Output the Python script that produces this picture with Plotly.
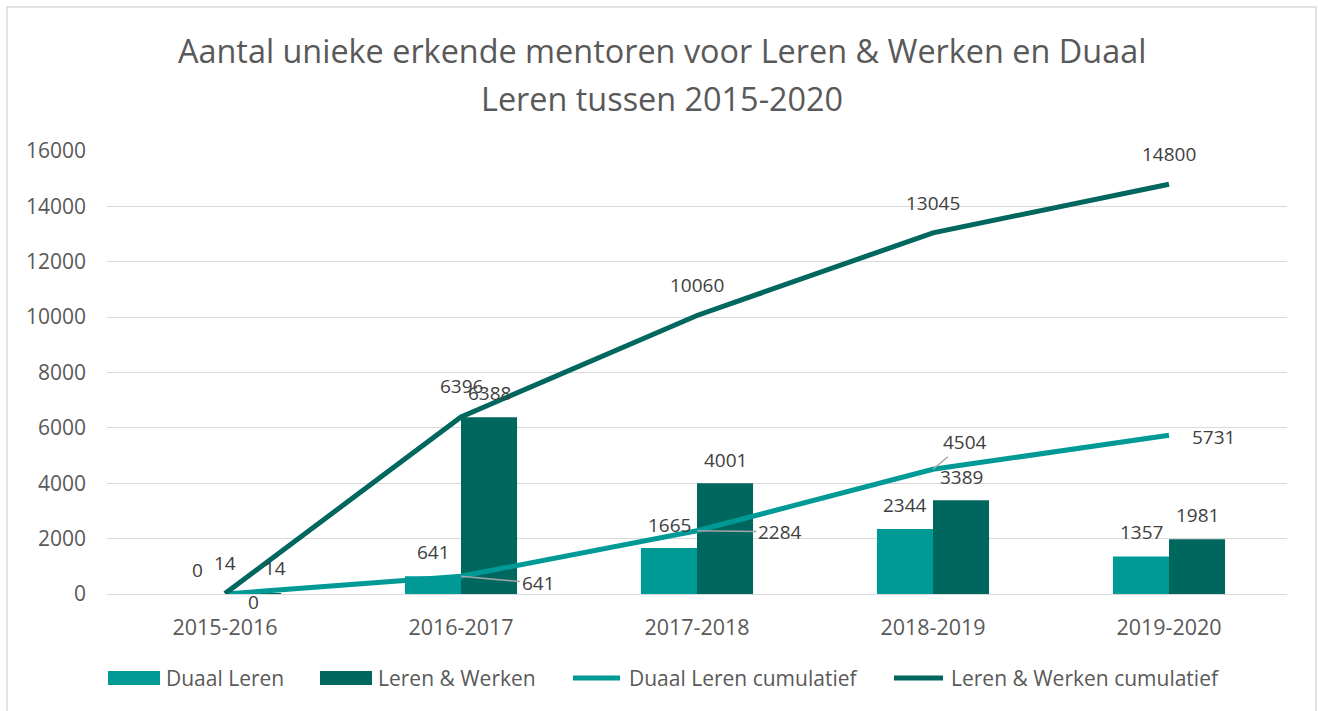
import plotly.graph_objects as go

# Schooljaren en aantallen mentoren
jaren = ["2015-2016", "2016-2017", "2017-2018", "2018-2019", "2019-2020"]
duaal_leren = [0, 641, 1665, 2344, 1357]
leren_werken = [14, 6388, 4001, 3389, 1981]
duaal_cumulatief = [0, 641, 2284, 4504, 5731]
lw_cumulatief = [14, 6396, 10060, 13045, 14800]

reeksnamen = ["Duaal Leren", "Leren & Werken", "Duaal Leren cumulatief", "Leren & Werken cumulatief"]
y_ticks = [0, 2000, 4000, 6000, 8000, 10000, 12000, 14000, 16000]

LICHT = "#009A96"
DONKER = "#00675F"
TEKST = "#404040"
AS_TEKST = "#595959"
FONT = "Open Sans"

W, H = 1318, 711
ML, MR, MT, MB = 107, 31, 151, 117
PW, PH = W - ML - MR, H - MT - MB


def px_x(x):
    return (x - ML) / PW


def px_y(y):
    return (H - MB - y) / PH


fig = go.Figure()
fig.add_trace(go.Bar(x=jaren, y=duaal_leren, name=reeksnamen[0], marker_color=LICHT,
                     marker_line_width=0, showlegend=False))
fig.add_trace(go.Bar(x=jaren, y=leren_werken, name=reeksnamen[1], marker_color=DONKER,
                     marker_line_width=0, showlegend=False))
fig.add_trace(go.Scatter(x=jaren, y=duaal_cumulatief, name=reeksnamen[2], mode="lines",
                         line=dict(color=LICHT, width=5), showlegend=False))
fig.add_trace(go.Scatter(x=jaren, y=lw_cumulatief, name=reeksnamen[3], mode="lines",
                         line=dict(color=DONKER, width=5), showlegend=False))

annotations = []
lbl_font = dict(family=FONT, size=19, color=TEKST)

# Waardelabels boven de staven
dl_bar_shift = [(0, 24), (0, 24), (0, 23), (0, 24), (0, 24)]
lw_bar_shift = [(22, 26), (0, 24), (0, 23), (0, 23), (0, 24)]
for i, j in enumerate(jaren):
    annotations.append(dict(x=j, y=duaal_leren[i], text=str(duaal_leren[i]), showarrow=False,
                            xshift=-28 + dl_bar_shift[i][0], yshift=dl_bar_shift[i][1], font=lbl_font))
    annotations.append(dict(x=j, y=leren_werken[i], text=str(leren_werken[i]), showarrow=False,
                            xshift=28 + lw_bar_shift[i][0], yshift=lw_bar_shift[i][1], font=lbl_font))
    annotations.append(dict(x=j, y=lw_cumulatief[i], text=str(lw_cumulatief[i]), showarrow=False,
                            xshift=0, yshift=31 if i < 2 else 30, font=lbl_font))

# Labels van de cumulatieve lijn Duaal Leren (sommige met verbindingslijn)
dc_offsets = [(28, 8, False), (77, 7, True), (83, 1, True), (32, -27, True), (44, 2, False)]
for i, j in enumerate(jaren):
    dx, dy, leader = dc_offsets[i]
    if leader:
        annotations.append(dict(x=j, y=duaal_cumulatief[i], text=str(duaal_cumulatief[i]),
                                showarrow=True, arrowhead=0, arrowwidth=1.5, arrowcolor="#A6A6A6",
                                ax=dx, ay=dy, standoff=0, font=lbl_font))
    else:
        annotations.append(dict(x=j, y=duaal_cumulatief[i], text=str(duaal_cumulatief[i]),
                                showarrow=False, xshift=dx, yshift=-dy, font=lbl_font))

# Titel in twee regels
titel = ["Aantal unieke erkende mentoren voor Leren & Werken en Duaal", "Leren tussen 2015-2020"]
for regel, ypix in zip(titel, [50, 98]):
    annotations.append(dict(xref="paper", yref="paper", x=px_x(662), y=px_y(ypix), text=regel,
                            showarrow=False, xanchor="center", yanchor="middle",
                            font=dict(family=FONT, size=32.4, color=AS_TEKST)))

# Legenda onder de grafiek
shapes = []
leg_y = 678
leg_font = dict(family=FONT, size=21, color=AS_TEKST)
leg_items = [
    (reeksnamen[0], LICHT, "rect", 108, 160, 164),
    (reeksnamen[1], DONKER, "rect", 320, 372, 376),
    (reeksnamen[2], LICHT, "line", 570, 623, 627),
    (reeksnamen[3], DONKER, "line", 891, 946, 949),
]
for naam, kleur, soort, x0, x1, tx in leg_items:
    if soort == "rect":
        shapes.append(dict(type="rect", xref="paper", yref="paper", x0=px_x(x0), x1=px_x(x1),
                           y0=px_y(leg_y + 7), y1=px_y(leg_y - 7), fillcolor=kleur, line_width=0))
    else:
        shapes.append(dict(type="line", xref="paper", yref="paper", x0=px_x(x0 + 3), x1=px_x(x1 - 3),
                           y0=px_y(leg_y), y1=px_y(leg_y), line=dict(color=kleur, width=5)))
    annotations.append(dict(xref="paper", yref="paper", x=px_x(tx), y=px_y(leg_y), text=naam,
                            showarrow=False, xanchor="left", yanchor="middle", font=leg_font))

# Kader rond de grafiek
shapes.append(dict(type="rect", xref="paper", yref="paper", x0=px_x(7), x1=px_x(1316),
                   y0=px_y(720), y1=px_y(7), line=dict(color="#D9D9D9", width=1.5),
                   fillcolor="rgba(0,0,0,0)", layer="below"))

fig.update_layout(
    width=W, height=H,
    margin=dict(l=ML, r=MR, t=MT, b=MB, pad=0),
    paper_bgcolor="white", plot_bgcolor="white",
    barmode="group", bargap=0.525, bargroupgap=0,
    showlegend=False,
    annotations=annotations, shapes=shapes,
    font=dict(family=FONT, color=AS_TEKST),
)
fig.update_xaxes(type="category", showgrid=False, showline=True, linecolor="#D9D9D9", linewidth=1,
                 ticks="", tickfont=dict(family=FONT, size=21.5, color=AS_TEKST), ticklabelstandoff=14)
fig.update_yaxes(range=[0, 16000], tickvals=y_ticks, ticktext=[str(v) for v in y_ticks],
                 showgrid=True, gridcolor="#D9D9D9", gridwidth=1,
                 zeroline=False, showline=False, ticks="",
                 tickfont=dict(family=FONT, size=21, color=AS_TEKST), ticklabelstandoff=20)

fig.write_html("out.html")
